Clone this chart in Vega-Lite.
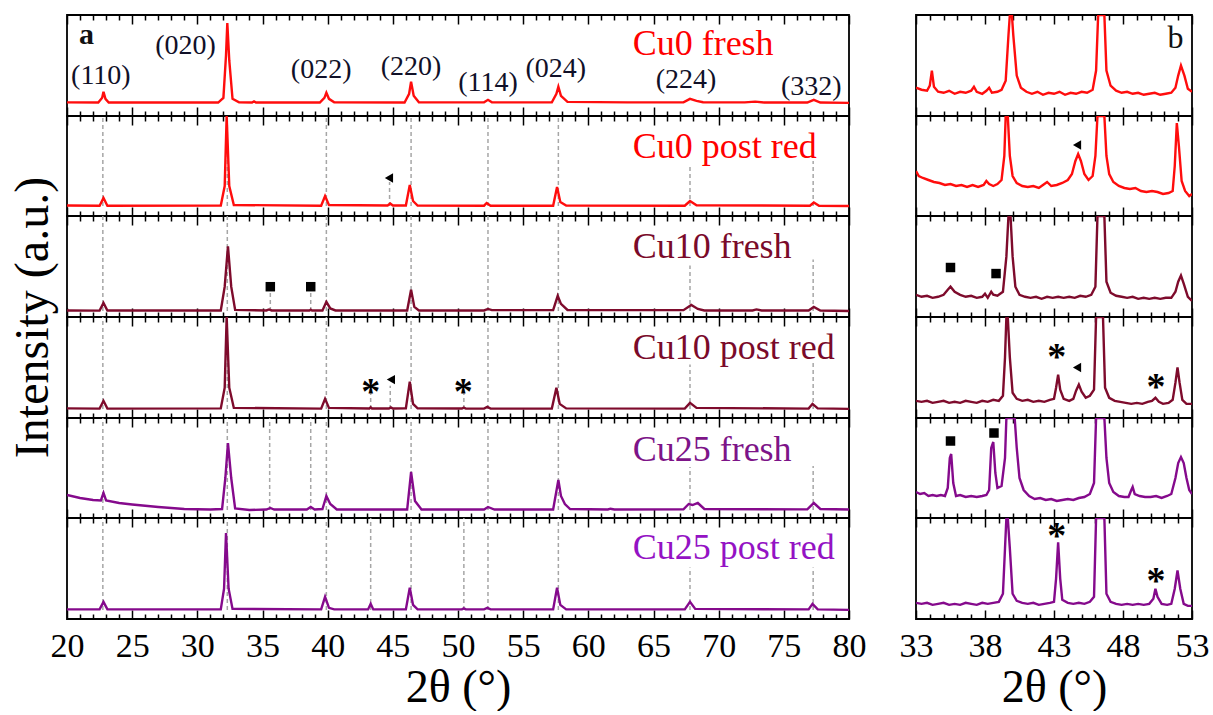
{
"$schema":"https://vega.github.io/schema/vega-lite/v6.json",
"background":"white",
"padding":{"left":8,"top":13,"right":0,"bottom":0},
"config":{"view":{"stroke":"#000","strokeWidth":1.8},"font":"Liberation Serif"},
"datasets":{
"tr":[
{"p":"L1","x":20,"y":13.5},{"p":"L1","x":22.4,"y":13.3},{"p":"L1","x":22.7,"y":18},{"p":"L1","x":22.8,"y":24},{"p":"L1","x":22.95,"y":17},{"p":"L1","x":23.2,"y":13.3},{"p":"L1","x":31.6,"y":13.3},{"p":"L1","x":32.0,"y":18},{"p":"L1","x":32.2,"y":60},{"p":"L1","x":32.3,"y":92},{"p":"L1","x":32.45,"y":55},{"p":"L1","x":32.7,"y":17},{"p":"L1","x":33.2,"y":13.5},{"p":"L1","x":34.2,"y":13.3},{"p":"L1","x":34.35,"y":14.5},{"p":"L1","x":34.5,"y":13.3},{"p":"L1","x":39.4,"y":13.3},{"p":"L1","x":39.75,"y":18},{"p":"L1","x":39.9,"y":23},{"p":"L1","x":40.1,"y":17},{"p":"L1","x":40.5,"y":13.5},{"p":"L1","x":45.9,"y":13.3},{"p":"L1","x":46.25,"y":22},{"p":"L1","x":46.4,"y":34},{"p":"L1","x":46.6,"y":20},{"p":"L1","x":47.0,"y":13.5},{"p":"L1","x":52.0,"y":13.5},{"p":"L1","x":52.3,"y":16},{"p":"L1","x":52.6,"y":13.5},{"p":"L1","x":57.2,"y":13.6},{"p":"L1","x":57.55,"y":22},{"p":"L1","x":57.7,"y":29},{"p":"L1","x":57.9,"y":20},{"p":"L1","x":58.4,"y":14},{"p":"L1","x":63,"y":13.5},{"p":"L1","x":67.3,"y":13.6},{"p":"L1","x":67.8,"y":17},{"p":"L1","x":68.3,"y":15},{"p":"L1","x":68.8,"y":13.6},{"p":"L1","x":72,"y":13.5},{"p":"L1","x":72.8,"y":14.2},{"p":"L1","x":73.5,"y":13.3},{"p":"L1","x":76.8,"y":13.3},{"p":"L1","x":77.3,"y":16},{"p":"L1","x":77.8,"y":13.3},{"p":"L1","x":80,"y":13},
{"p":"L2","x":20,"y":10.5},{"p":"L2","x":22.5,"y":10.3},{"p":"L2","x":22.8,"y":18},{"p":"L2","x":23.1,"y":10.3},{"p":"L2","x":31.8,"y":10.5},{"p":"L2","x":32.1,"y":30},{"p":"L2","x":32.25,"y":100},{"p":"L2","x":32.45,"y":30},{"p":"L2","x":32.8,"y":11},{"p":"L2","x":39.5,"y":10.3},{"p":"L2","x":39.8,"y":20},{"p":"L2","x":40.1,"y":11},{"p":"L2","x":44.6,"y":10.5},{"p":"L2","x":44.8,"y":12.5},{"p":"L2","x":45.0,"y":10.5},{"p":"L2","x":46.0,"y":10.5},{"p":"L2","x":46.3,"y":31},{"p":"L2","x":46.55,"y":15},{"p":"L2","x":46.9,"y":10.5},{"p":"L2","x":52.0,"y":10.3},{"p":"L2","x":52.2,"y":13},{"p":"L2","x":52.5,"y":10.3},{"p":"L2","x":57.3,"y":10.3},{"p":"L2","x":57.6,"y":29},{"p":"L2","x":57.85,"y":14},{"p":"L2","x":58.3,"y":10.5},{"p":"L2","x":67.4,"y":10.3},{"p":"L2","x":67.8,"y":15},{"p":"L2","x":68.3,"y":10.8},{"p":"L2","x":77.0,"y":10.3},{"p":"L2","x":77.3,"y":13.5},{"p":"L2","x":77.7,"y":10.3},{"p":"L2","x":80,"y":10},
{"p":"L3","x":20,"y":6.5},{"p":"L3","x":22.5,"y":6.3},{"p":"L3","x":22.8,"y":14},{"p":"L3","x":23.1,"y":6.5},{"p":"L3","x":31.8,"y":6.5},{"p":"L3","x":32.1,"y":30},{"p":"L3","x":32.35,"y":70},{"p":"L3","x":32.6,"y":30},{"p":"L3","x":32.9,"y":7},{"p":"L3","x":35.3,"y":6.5},{"p":"L3","x":35.5,"y":7.5},{"p":"L3","x":35.7,"y":6.5},{"p":"L3","x":38.6,"y":6.5},{"p":"L3","x":38.7,"y":7.2},{"p":"L3","x":38.8,"y":6.5},{"p":"L3","x":39.6,"y":6.5},{"p":"L3","x":39.9,"y":15},{"p":"L3","x":40.2,"y":8.5},{"p":"L3","x":40.6,"y":6.5},{"p":"L3","x":46.1,"y":6.5},{"p":"L3","x":46.4,"y":27},{"p":"L3","x":46.65,"y":10},{"p":"L3","x":47.0,"y":6.5},{"p":"L3","x":52.0,"y":6.5},{"p":"L3","x":52.3,"y":8},{"p":"L3","x":52.6,"y":6.8},{"p":"L3","x":57.3,"y":6.8},{"p":"L3","x":57.65,"y":21},{"p":"L3","x":57.9,"y":13},{"p":"L3","x":58.4,"y":7},{"p":"L3","x":67.3,"y":6.8},{"p":"L3","x":67.9,"y":12},{"p":"L3","x":68.4,"y":8},{"p":"L3","x":68.9,"y":6.5},{"p":"L3","x":72.6,"y":6.5},{"p":"L3","x":72.9,"y":7.5},{"p":"L3","x":73.3,"y":6.5},{"p":"L3","x":76.9,"y":6.5},{"p":"L3","x":77.3,"y":10},{"p":"L3","x":77.8,"y":6.5},{"p":"L3","x":80,"y":6},
{"p":"L4","x":20,"y":9.5},{"p":"L4","x":22.5,"y":9.3},{"p":"L4","x":22.8,"y":17},{"p":"L4","x":23.1,"y":9.3},{"p":"L4","x":31.8,"y":9.5},{"p":"L4","x":32.1,"y":30},{"p":"L4","x":32.25,"y":100},{"p":"L4","x":32.45,"y":30},{"p":"L4","x":32.8,"y":10},{"p":"L4","x":39.5,"y":9.3},{"p":"L4","x":39.8,"y":19},{"p":"L4","x":40.1,"y":10},{"p":"L4","x":43.2,"y":9.4},{"p":"L4","x":43.3,"y":10.5},{"p":"L4","x":43.4,"y":9.4},{"p":"L4","x":44.7,"y":9.4},{"p":"L4","x":44.85,"y":10.5},{"p":"L4","x":45,"y":9.4},{"p":"L4","x":46.0,"y":9.5},{"p":"L4","x":46.3,"y":36},{"p":"L4","x":46.55,"y":14},{"p":"L4","x":46.9,"y":9.5},{"p":"L4","x":50.3,"y":9.4},{"p":"L4","x":50.45,"y":10.3},{"p":"L4","x":50.6,"y":9.4},{"p":"L4","x":52.0,"y":9.3},{"p":"L4","x":52.25,"y":11},{"p":"L4","x":52.5,"y":9.3},{"p":"L4","x":57.2,"y":9.3},{"p":"L4","x":57.55,"y":30},{"p":"L4","x":57.8,"y":14},{"p":"L4","x":58.3,"y":9.5},{"p":"L4","x":67.4,"y":9.3},{"p":"L4","x":67.8,"y":15},{"p":"L4","x":68.3,"y":10},{"p":"L4","x":76.9,"y":9.3},{"p":"L4","x":77.2,"y":14},{"p":"L4","x":77.6,"y":9.5},{"p":"L4","x":80,"y":9},
{"p":"L5","x":20,"y":23},{"p":"L5","x":21,"y":20},{"p":"L5","x":22,"y":18},{"p":"L5","x":22.6,"y":17.5},{"p":"L5","x":22.8,"y":25},{"p":"L5","x":23.0,"y":17.5},{"p":"L5","x":24,"y":15},{"p":"L5","x":25,"y":13.5},{"p":"L5","x":27,"y":11},{"p":"L5","x":29,"y":9},{"p":"L5","x":31,"y":8.5},{"p":"L5","x":31.9,"y":9},{"p":"L5","x":32.15,"y":40},{"p":"L5","x":32.35,"y":75},{"p":"L5","x":32.6,"y":40},{"p":"L5","x":32.9,"y":9.5},{"p":"L5","x":34,"y":8},{"p":"L5","x":35.3,"y":8.5},{"p":"L5","x":35.6,"y":10},{"p":"L5","x":35.9,"y":8.5},{"p":"L5","x":38.4,"y":8.5},{"p":"L5","x":38.7,"y":11},{"p":"L5","x":39.0,"y":8.5},{"p":"L5","x":39.6,"y":9},{"p":"L5","x":39.9,"y":22},{"p":"L5","x":40.2,"y":14},{"p":"L5","x":40.7,"y":8.5},{"p":"L5","x":46.1,"y":8.5},{"p":"L5","x":46.4,"y":46},{"p":"L5","x":46.7,"y":17},{"p":"L5","x":47.2,"y":8.5},{"p":"L5","x":52.0,"y":8.5},{"p":"L5","x":52.3,"y":11},{"p":"L5","x":52.8,"y":8.5},{"p":"L5","x":57.3,"y":8.5},{"p":"L5","x":57.7,"y":38},{"p":"L5","x":57.9,"y":22},{"p":"L5","x":58.2,"y":14},{"p":"L5","x":58.6,"y":9},{"p":"L5","x":61.5,"y":8.5},{"p":"L5","x":61.7,"y":9.3},{"p":"L5","x":62,"y":8.5},{"p":"L5","x":67.3,"y":8.7},{"p":"L5","x":67.7,"y":14},{"p":"L5","x":68.0,"y":13},{"p":"L5","x":68.4,"y":15},{"p":"L5","x":68.9,"y":9},{"p":"L5","x":76.8,"y":8.6},{"p":"L5","x":77.3,"y":15},{"p":"L5","x":77.8,"y":9},{"p":"L5","x":80,"y":8.5},
{"p":"L6","x":20,"y":9.5},{"p":"L6","x":22.5,"y":9.5},{"p":"L6","x":22.8,"y":17},{"p":"L6","x":23.1,"y":9.5},{"p":"L6","x":31.8,"y":9.5},{"p":"L6","x":32.05,"y":30},{"p":"L6","x":32.2,"y":85},{"p":"L6","x":32.4,"y":30},{"p":"L6","x":32.7,"y":10},{"p":"L6","x":39.5,"y":9.5},{"p":"L6","x":39.8,"y":22},{"p":"L6","x":40.1,"y":11},{"p":"L6","x":40.5,"y":9.5},{"p":"L6","x":43.1,"y":9.5},{"p":"L6","x":43.3,"y":15},{"p":"L6","x":43.5,"y":9.5},{"p":"L6","x":46.0,"y":9.5},{"p":"L6","x":46.3,"y":31},{"p":"L6","x":46.55,"y":14},{"p":"L6","x":46.9,"y":9.5},{"p":"L6","x":50.3,"y":9.5},{"p":"L6","x":50.45,"y":10.5},{"p":"L6","x":50.6,"y":9.5},{"p":"L6","x":52.0,"y":9.5},{"p":"L6","x":52.25,"y":11},{"p":"L6","x":52.5,"y":9.5},{"p":"L6","x":57.3,"y":9.5},{"p":"L6","x":57.6,"y":31},{"p":"L6","x":57.85,"y":14},{"p":"L6","x":58.3,"y":9.5},{"p":"L6","x":67.4,"y":9.5},{"p":"L6","x":67.8,"y":17},{"p":"L6","x":68.2,"y":10},{"p":"L6","x":76.9,"y":9.5},{"p":"L6","x":77.2,"y":15},{"p":"L6","x":77.6,"y":9.5},{"p":"L6","x":80,"y":9},
{"p":"R1","x":33,"y":28},{"p":"R1","x":33.4,"y":26},{"p":"R1","x":33.8,"y":25},{"p":"R1","x":34.0,"y":30},{"p":"R1","x":34.15,"y":45},{"p":"R1","x":34.3,"y":29},{"p":"R1","x":34.6,"y":24},{"p":"R1","x":35.0,"y":23},{"p":"R1","x":35.4,"y":25},{"p":"R1","x":35.8,"y":22},{"p":"R1","x":36.2,"y":24},{"p":"R1","x":36.6,"y":23},{"p":"R1","x":37.0,"y":25},{"p":"R1","x":37.2,"y":29},{"p":"R1","x":37.4,"y":24},{"p":"R1","x":37.8,"y":22},{"p":"R1","x":38.1,"y":25},{"p":"R1","x":38.3,"y":28},{"p":"R1","x":38.5,"y":23},{"p":"R1","x":38.9,"y":24},{"p":"R1","x":39.2,"y":26},{"p":"R1","x":39.5,"y":35},{"p":"R1","x":39.7,"y":80},{"p":"R1","x":39.8,"y":100},{"p":"R1","x":39.95,"y":100},{"p":"R1","x":40.05,"y":80},{"p":"R1","x":40.3,"y":40},{"p":"R1","x":40.6,"y":28},{"p":"R1","x":41.0,"y":24},{"p":"R1","x":41.4,"y":22},{"p":"R1","x":41.8,"y":24},{"p":"R1","x":42.2,"y":21},{"p":"R1","x":42.6,"y":23},{"p":"R1","x":43.0,"y":22},{"p":"R1","x":43.4,"y":24},{"p":"R1","x":43.8,"y":21},{"p":"R1","x":44.2,"y":23},{"p":"R1","x":44.6,"y":22},{"p":"R1","x":45.0,"y":24},{"p":"R1","x":45.4,"y":23},{"p":"R1","x":45.8,"y":26},{"p":"R1","x":46.05,"y":45},{"p":"R1","x":46.2,"y":100},{"p":"R1","x":46.65,"y":100},{"p":"R1","x":46.8,"y":45},{"p":"R1","x":47.1,"y":30},{"p":"R1","x":47.5,"y":25},{"p":"R1","x":47.9,"y":23},{"p":"R1","x":48.3,"y":24},{"p":"R1","x":48.7,"y":22},{"p":"R1","x":49.1,"y":23},{"p":"R1","x":49.5,"y":21},{"p":"R1","x":49.9,"y":22},{"p":"R1","x":50.3,"y":23},{"p":"R1","x":50.7,"y":21},{"p":"R1","x":51.1,"y":22},{"p":"R1","x":51.5,"y":23},{"p":"R1","x":51.8,"y":28},{"p":"R1","x":52.0,"y":40},{"p":"R1","x":52.2,"y":50},{"p":"R1","x":52.45,"y":40},{"p":"R1","x":52.7,"y":27},{"p":"R1","x":53,"y":24},
{"p":"R2","x":33,"y":45},{"p":"R2","x":33.2,"y":40},{"p":"R2","x":33.5,"y":38},{"p":"R2","x":33.9,"y":36},{"p":"R2","x":34.3,"y":34},{"p":"R2","x":34.7,"y":33},{"p":"R2","x":35.1,"y":31},{"p":"R2","x":35.5,"y":32},{"p":"R2","x":35.9,"y":30},{"p":"R2","x":36.3,"y":31},{"p":"R2","x":36.7,"y":29},{"p":"R2","x":37.1,"y":31},{"p":"R2","x":37.5,"y":29},{"p":"R2","x":37.9,"y":31},{"p":"R2","x":38.1,"y":35},{"p":"R2","x":38.3,"y":32},{"p":"R2","x":38.6,"y":30},{"p":"R2","x":38.9,"y":32},{"p":"R2","x":39.2,"y":36},{"p":"R2","x":39.4,"y":60},{"p":"R2","x":39.5,"y":100},{"p":"R2","x":39.65,"y":100},{"p":"R2","x":39.8,"y":60},{"p":"R2","x":40.0,"y":40},{"p":"R2","x":40.3,"y":33},{"p":"R2","x":40.7,"y":30},{"p":"R2","x":41.1,"y":29},{"p":"R2","x":41.5,"y":30},{"p":"R2","x":41.9,"y":28},{"p":"R2","x":42.2,"y":31},{"p":"R2","x":42.5,"y":34},{"p":"R2","x":42.8,"y":30},{"p":"R2","x":43.2,"y":31},{"p":"R2","x":43.6,"y":33},{"p":"R2","x":44.0,"y":36},{"p":"R2","x":44.3,"y":42},{"p":"R2","x":44.55,"y":55},{"p":"R2","x":44.75,"y":62},{"p":"R2","x":44.95,"y":55},{"p":"R2","x":45.2,"y":42},{"p":"R2","x":45.5,"y":36},{"p":"R2","x":45.8,"y":40},{"p":"R2","x":46.0,"y":60},{"p":"R2","x":46.15,"y":100},{"p":"R2","x":46.65,"y":100},{"p":"R2","x":46.8,"y":60},{"p":"R2","x":47.0,"y":42},{"p":"R2","x":47.3,"y":34},{"p":"R2","x":47.7,"y":30},{"p":"R2","x":48.1,"y":28},{"p":"R2","x":48.5,"y":27},{"p":"R2","x":48.9,"y":28},{"p":"R2","x":49.3,"y":25},{"p":"R2","x":49.7,"y":24},{"p":"R2","x":50.1,"y":25},{"p":"R2","x":50.5,"y":24},{"p":"R2","x":50.9,"y":22},{"p":"R2","x":51.3,"y":23},{"p":"R2","x":51.6,"y":25},{"p":"R2","x":51.75,"y":50},{"p":"R2","x":51.9,"y":93},{"p":"R2","x":52.05,"y":70},{"p":"R2","x":52.25,"y":35},{"p":"R2","x":52.5,"y":25},{"p":"R2","x":52.8,"y":20},{"p":"R2","x":53,"y":22},
{"p":"R3","x":33,"y":22},{"p":"R3","x":33.4,"y":20},{"p":"R3","x":33.8,"y":21},{"p":"R3","x":34.2,"y":19},{"p":"R3","x":34.6,"y":20},{"p":"R3","x":35.0,"y":22},{"p":"R3","x":35.3,"y":27},{"p":"R3","x":35.5,"y":30},{"p":"R3","x":35.8,"y":25},{"p":"R3","x":36.2,"y":22},{"p":"R3","x":36.6,"y":20},{"p":"R3","x":37.0,"y":21},{"p":"R3","x":37.4,"y":19},{"p":"R3","x":37.8,"y":20},{"p":"R3","x":38.0,"y":23},{"p":"R3","x":38.2,"y":19},{"p":"R3","x":38.45,"y":25},{"p":"R3","x":38.6,"y":22},{"p":"R3","x":38.9,"y":21},{"p":"R3","x":39.3,"y":25},{"p":"R3","x":39.55,"y":60},{"p":"R3","x":39.7,"y":100},{"p":"R3","x":39.85,"y":100},{"p":"R3","x":40.0,"y":60},{"p":"R3","x":40.2,"y":30},{"p":"R3","x":40.5,"y":22},{"p":"R3","x":40.9,"y":20},{"p":"R3","x":41.3,"y":19},{"p":"R3","x":41.7,"y":20},{"p":"R3","x":42.1,"y":18},{"p":"R3","x":42.5,"y":20},{"p":"R3","x":42.9,"y":19},{"p":"R3","x":43.3,"y":20},{"p":"R3","x":43.7,"y":19},{"p":"R3","x":44.1,"y":20},{"p":"R3","x":44.5,"y":19},{"p":"R3","x":44.9,"y":21},{"p":"R3","x":45.3,"y":20},{"p":"R3","x":45.7,"y":22},{"p":"R3","x":46.0,"y":30},{"p":"R3","x":46.15,"y":100},{"p":"R3","x":46.65,"y":100},{"p":"R3","x":46.8,"y":35},{"p":"R3","x":47.1,"y":24},{"p":"R3","x":47.5,"y":21},{"p":"R3","x":47.9,"y":20},{"p":"R3","x":48.3,"y":19},{"p":"R3","x":48.7,"y":20},{"p":"R3","x":49.1,"y":18},{"p":"R3","x":49.5,"y":19},{"p":"R3","x":49.9,"y":18},{"p":"R3","x":50.3,"y":19},{"p":"R3","x":50.7,"y":18},{"p":"R3","x":51.1,"y":19},{"p":"R3","x":51.5,"y":19},{"p":"R3","x":51.8,"y":25},{"p":"R3","x":52.0,"y":35},{"p":"R3","x":52.2,"y":41},{"p":"R3","x":52.4,"y":33},{"p":"R3","x":52.7,"y":20},{"p":"R3","x":53,"y":16},
{"p":"R4","x":33,"y":17},{"p":"R4","x":33.4,"y":16},{"p":"R4","x":33.8,"y":17},{"p":"R4","x":34.2,"y":15},{"p":"R4","x":34.6,"y":16},{"p":"R4","x":35.0,"y":17},{"p":"R4","x":35.4,"y":15},{"p":"R4","x":35.8,"y":16},{"p":"R4","x":36.2,"y":15},{"p":"R4","x":36.6,"y":17},{"p":"R4","x":37.0,"y":16},{"p":"R4","x":37.4,"y":15},{"p":"R4","x":37.8,"y":17},{"p":"R4","x":38.2,"y":16},{"p":"R4","x":38.6,"y":18},{"p":"R4","x":39.0,"y":17},{"p":"R4","x":39.3,"y":22},{"p":"R4","x":39.45,"y":60},{"p":"R4","x":39.55,"y":100},{"p":"R4","x":39.65,"y":100},{"p":"R4","x":39.8,"y":60},{"p":"R4","x":40.0,"y":25},{"p":"R4","x":40.3,"y":19},{"p":"R4","x":40.7,"y":17},{"p":"R4","x":41.1,"y":18},{"p":"R4","x":41.5,"y":16},{"p":"R4","x":41.9,"y":17},{"p":"R4","x":42.3,"y":16},{"p":"R4","x":42.7,"y":18},{"p":"R4","x":43.0,"y":19},{"p":"R4","x":43.15,"y":30},{"p":"R4","x":43.3,"y":43},{"p":"R4","x":43.45,"y":28},{"p":"R4","x":43.7,"y":19},{"p":"R4","x":44.1,"y":17},{"p":"R4","x":44.4,"y":19},{"p":"R4","x":44.6,"y":27},{"p":"R4","x":44.8,"y":33},{"p":"R4","x":45.0,"y":26},{"p":"R4","x":45.3,"y":20},{"p":"R4","x":45.6,"y":22},{"p":"R4","x":45.9,"y":28},{"p":"R4","x":46.05,"y":100},{"p":"R4","x":46.55,"y":100},{"p":"R4","x":46.7,"y":30},{"p":"R4","x":47.0,"y":20},{"p":"R4","x":47.4,"y":17},{"p":"R4","x":47.8,"y":16},{"p":"R4","x":48.2,"y":15},{"p":"R4","x":48.6,"y":14},{"p":"R4","x":49.0,"y":15},{"p":"R4","x":49.4,"y":14},{"p":"R4","x":49.8,"y":16},{"p":"R4","x":50.1,"y":17},{"p":"R4","x":50.35,"y":20},{"p":"R4","x":50.6,"y":16},{"p":"R4","x":50.9,"y":14},{"p":"R4","x":51.3,"y":15},{"p":"R4","x":51.6,"y":18},{"p":"R4","x":51.8,"y":35},{"p":"R4","x":51.95,"y":50},{"p":"R4","x":52.1,"y":35},{"p":"R4","x":52.3,"y":18},{"p":"R4","x":52.6,"y":14},{"p":"R4","x":53,"y":14},
{"p":"R5","x":33,"y":26},{"p":"R5","x":33.3,"y":24},{"p":"R5","x":33.6,"y":25},{"p":"R5","x":33.9,"y":22},{"p":"R5","x":34.2,"y":23},{"p":"R5","x":34.5,"y":22},{"p":"R5","x":34.8,"y":23},{"p":"R5","x":35.1,"y":22},{"p":"R5","x":35.3,"y":30},{"p":"R5","x":35.45,"y":60},{"p":"R5","x":35.55,"y":64},{"p":"R5","x":35.7,"y":35},{"p":"R5","x":35.9,"y":22},{"p":"R5","x":36.2,"y":23},{"p":"R5","x":36.6,"y":21},{"p":"R5","x":37.0,"y":22},{"p":"R5","x":37.4,"y":21},{"p":"R5","x":37.8,"y":22},{"p":"R5","x":38.1,"y":23},{"p":"R5","x":38.3,"y":28},{"p":"R5","x":38.45,"y":70},{"p":"R5","x":38.6,"y":76},{"p":"R5","x":38.75,"y":45},{"p":"R5","x":38.9,"y":30},{"p":"R5","x":39.2,"y":32},{"p":"R5","x":39.45,"y":60},{"p":"R5","x":39.55,"y":100},{"p":"R5","x":40.15,"y":100},{"p":"R5","x":40.3,"y":70},{"p":"R5","x":40.5,"y":40},{"p":"R5","x":40.8,"y":28},{"p":"R5","x":41.2,"y":22},{"p":"R5","x":41.6,"y":19},{"p":"R5","x":42.0,"y":20},{"p":"R5","x":42.4,"y":18},{"p":"R5","x":42.8,"y":19},{"p":"R5","x":43.2,"y":17},{"p":"R5","x":43.6,"y":18},{"p":"R5","x":44.0,"y":19},{"p":"R5","x":44.4,"y":18},{"p":"R5","x":44.8,"y":20},{"p":"R5","x":45.2,"y":21},{"p":"R5","x":45.6,"y":24},{"p":"R5","x":45.9,"y":35},{"p":"R5","x":46.05,"y":100},{"p":"R5","x":46.65,"y":100},{"p":"R5","x":46.8,"y":60},{"p":"R5","x":47.0,"y":35},{"p":"R5","x":47.3,"y":26},{"p":"R5","x":47.7,"y":22},{"p":"R5","x":48.1,"y":21},{"p":"R5","x":48.4,"y":21},{"p":"R5","x":48.6,"y":28},{"p":"R5","x":48.7,"y":31},{"p":"R5","x":48.85,"y":24},{"p":"R5","x":49.2,"y":22},{"p":"R5","x":49.6,"y":21},{"p":"R5","x":50.0,"y":21},{"p":"R5","x":50.4,"y":22},{"p":"R5","x":50.8,"y":20},{"p":"R5","x":51.2,"y":22},{"p":"R5","x":51.5,"y":24},{"p":"R5","x":51.8,"y":40},{"p":"R5","x":52.0,"y":55},{"p":"R5","x":52.2,"y":61},{"p":"R5","x":52.4,"y":55},{"p":"R5","x":52.6,"y":40},{"p":"R5","x":52.8,"y":28},{"p":"R5","x":53,"y":24},
{"p":"R6","x":33,"y":16},{"p":"R6","x":33.4,"y":15},{"p":"R6","x":33.8,"y":16},{"p":"R6","x":34.2,"y":14},{"p":"R6","x":34.6,"y":15},{"p":"R6","x":35.0,"y":16},{"p":"R6","x":35.4,"y":14},{"p":"R6","x":35.8,"y":15},{"p":"R6","x":36.2,"y":14},{"p":"R6","x":36.6,"y":16},{"p":"R6","x":37.0,"y":15},{"p":"R6","x":37.4,"y":14},{"p":"R6","x":37.8,"y":16},{"p":"R6","x":38.2,"y":15},{"p":"R6","x":38.6,"y":16},{"p":"R6","x":39.0,"y":17},{"p":"R6","x":39.3,"y":25},{"p":"R6","x":39.45,"y":70},{"p":"R6","x":39.55,"y":100},{"p":"R6","x":39.65,"y":100},{"p":"R6","x":39.8,"y":70},{"p":"R6","x":40.0,"y":25},{"p":"R6","x":40.3,"y":18},{"p":"R6","x":40.7,"y":16},{"p":"R6","x":41.1,"y":15},{"p":"R6","x":41.5,"y":16},{"p":"R6","x":41.9,"y":14},{"p":"R6","x":42.3,"y":15},{"p":"R6","x":42.7,"y":16},{"p":"R6","x":43.0,"y":17},{"p":"R6","x":43.15,"y":40},{"p":"R6","x":43.3,"y":76},{"p":"R6","x":43.45,"y":40},{"p":"R6","x":43.6,"y":19},{"p":"R6","x":44.0,"y":16},{"p":"R6","x":44.4,"y":15},{"p":"R6","x":44.8,"y":16},{"p":"R6","x":45.2,"y":15},{"p":"R6","x":45.6,"y":17},{"p":"R6","x":45.9,"y":22},{"p":"R6","x":46.05,"y":100},{"p":"R6","x":46.65,"y":100},{"p":"R6","x":46.8,"y":25},{"p":"R6","x":47.1,"y":17},{"p":"R6","x":47.5,"y":15},{"p":"R6","x":47.9,"y":14},{"p":"R6","x":48.3,"y":15},{"p":"R6","x":48.7,"y":14},{"p":"R6","x":49.1,"y":15},{"p":"R6","x":49.5,"y":14},{"p":"R6","x":49.9,"y":15},{"p":"R6","x":50.2,"y":20},{"p":"R6","x":50.35,"y":30},{"p":"R6","x":50.5,"y":22},{"p":"R6","x":50.8,"y":15},{"p":"R6","x":51.2,"y":14},{"p":"R6","x":51.5,"y":15},{"p":"R6","x":51.75,"y":30},{"p":"R6","x":51.95,"y":48},{"p":"R6","x":52.15,"y":30},{"p":"R6","x":52.4,"y":15},{"p":"R6","x":52.7,"y":13},{"p":"R6","x":53,"y":13}
],
"ru":[
{"p":"L2","x":22.75,"y":10,"y2":100},{"p":"L2","x":32.3,"y":10,"y2":100},{"p":"L2","x":39.9,"y":10,"y2":100},{"p":"L2","x":44.75,"y":10,"y2":34},{"p":"L2","x":46.4,"y":10,"y2":100},{"p":"L2","x":52.3,"y":10,"y2":100},{"p":"L2","x":57.7,"y":10,"y2":100},{"p":"L2","x":67.8,"y":10,"y2":52},{"p":"L2","x":77.25,"y":10,"y2":55},
{"p":"L3","x":22.75,"y":6,"y2":100},{"p":"L3","x":32.3,"y":6,"y2":100},{"p":"L3","x":35.6,"y":6,"y2":25},{"p":"L3","x":38.7,"y":6,"y2":25},{"p":"L3","x":39.9,"y":6,"y2":100},{"p":"L3","x":46.4,"y":6,"y2":100},{"p":"L3","x":52.3,"y":6,"y2":100},{"p":"L3","x":57.7,"y":6,"y2":100},{"p":"L3","x":67.8,"y":6,"y2":51},{"p":"L3","x":77.25,"y":6,"y2":57},
{"p":"L4","x":22.75,"y":9,"y2":100},{"p":"L4","x":32.3,"y":9,"y2":100},{"p":"L4","x":39.9,"y":9,"y2":100},{"p":"L4","x":43.3,"y":9,"y2":24},{"p":"L4","x":44.8,"y":9,"y2":32},{"p":"L4","x":46.4,"y":9,"y2":100},{"p":"L4","x":50.45,"y":9,"y2":24},{"p":"L4","x":52.3,"y":9,"y2":100},{"p":"L4","x":57.7,"y":9,"y2":100},{"p":"L4","x":67.8,"y":9,"y2":53},{"p":"L4","x":77.25,"y":9,"y2":56},
{"p":"L5","x":22.75,"y":8,"y2":100},{"p":"L5","x":32.3,"y":8,"y2":100},{"p":"L5","x":35.55,"y":8,"y2":100},{"p":"L5","x":38.7,"y":8,"y2":100},{"p":"L5","x":39.9,"y":8,"y2":100},{"p":"L5","x":46.4,"y":8,"y2":100},{"p":"L5","x":52.3,"y":8,"y2":100},{"p":"L5","x":57.7,"y":8,"y2":100},{"p":"L5","x":67.8,"y":8,"y2":51},{"p":"L5","x":77.25,"y":8,"y2":52},
{"p":"L6","x":22.75,"y":9,"y2":100},{"p":"L6","x":32.3,"y":9,"y2":100},{"p":"L6","x":39.9,"y":9,"y2":100},{"p":"L6","x":43.3,"y":9,"y2":100},{"p":"L6","x":46.4,"y":9,"y2":100},{"p":"L6","x":50.45,"y":9,"y2":100},{"p":"L6","x":52.3,"y":9,"y2":100},{"p":"L6","x":57.7,"y":9,"y2":100},{"p":"L6","x":67.8,"y":9,"y2":51},{"p":"L6","x":77.25,"y":9,"y2":51}
],
"tx":[
{"p":"L1","k":"lab","x":63.4,"y":60,"t":"Cu0 fresh"},{"p":"L2","k":"lab","x":63.4,"y":58,"t":"Cu0 post red"},{"p":"L3","k":"lab","x":63.4,"y":58,"t":"Cu10 fresh"},{"p":"L4","k":"lab","x":63.4,"y":58,"t":"Cu10 post red"},{"p":"L5","k":"lab","x":63.4,"y":57,"t":"Cu25 fresh"},{"p":"L6","k":"lab","x":63.4,"y":59,"t":"Cu25 post red"},
{"p":"L1","k":"hkl","x":22.6,"y":40,"t":"(110)"},{"p":"L1","k":"hkl","x":29.1,"y":69,"t":"(020)"},{"p":"L1","k":"hkl","x":39.5,"y":45.5,"t":"(022)"},{"p":"L1","k":"hkl","x":46.4,"y":49,"t":"(220)"},{"p":"L1","k":"hkl","x":52.3,"y":33,"t":"(114)"},{"p":"L1","k":"hkl","x":57.5,"y":46.5,"t":"(024)"},{"p":"L1","k":"hkl","x":67.5,"y":35.5,"t":"(224)"},{"p":"L1","k":"hkl","x":77.1,"y":29,"t":"(332)"},
{"p":"L1","k":"ab","x":21.5,"y":80,"t":"a"},{"p":"R1","k":"ab","x":51.8,"y":77,"t":"b"}
],
"mk":[
{"p":"L2","k":"tri","x":44.7,"y":38},
{"p":"L3","k":"sq","x":35.6,"y":30},{"p":"L3","k":"sq","x":38.7,"y":30},
{"p":"L4","k":"ast","x":43.3,"y":31},{"p":"L4","k":"tri","x":44.85,"y":38},{"p":"L4","k":"ast","x":50.4,"y":31},
{"p":"R2","k":"tri","x":44.67,"y":71},
{"p":"R3","k":"sq","x":35.5,"y":49},{"p":"R3","k":"sq","x":38.8,"y":43},
{"p":"R4","k":"ast","x":43.2,"y":65},{"p":"R4","k":"tri","x":44.67,"y":50},{"p":"R4","k":"ast","x":50.4,"y":36},
{"p":"R5","k":"sq","x":35.5,"y":77},{"p":"R5","k":"sq","x":38.65,"y":85},
{"p":"R6","k":"ast","x":43.2,"y":87},{"p":"R6","k":"ast","x":50.4,"y":43}
]
},
"spacing":31,
"hconcat":[
{"bounds":"flush","spacing":0,
 "vconcat":[
  {"width":782,"height":101,"resolve":{"axis":{"x":"independent"}},"layer":[
   {"data":{"name":"tr"},"transform":[{"filter":"datum.p==='L1'"}],"mark":{"type":"line","color":"#ff0d0d","strokeWidth":2.4,"clip":true},"encoding":{"x":{"field":"x","type":"quantitative","scale":{"domain":[20,80]},"axis":{"orient":"bottom","values":[20,21,22,23,24,25,26,27,28,29,30,31,32,33,34,35,36,37,38,39,40,41,42,43,44,45,46,47,48,49,50,51,52,53,54,55,56,57,58,59,60,61,62,63,64,65,66,67,68,69,70,71,72,73,74,75,76,77,78,79,80],"labels":false,"domain":false,"grid":false,"title":null,"tickColor":"#000","tickWidth":1.5,"tickSize":{"condition":{"test":"datum.value % 5 === 0","value":-9},"value":-5}}},"y":{"field":"y","type":"quantitative","scale":{"domain":[0,100]},"axis":null}}},
   {"data":{"name":"tr"},"transform":[{"filter":"datum.p==='L1'"}],"mark":{"type":"line","strokeOpacity":0},"encoding":{"x":{"field":"x","type":"quantitative","scale":{"domain":[20,80]},"axis":{"orient":"top","values":[20,21,22,23,24,25,26,27,28,29,30,31,32,33,34,35,36,37,38,39,40,41,42,43,44,45,46,47,48,49,50,51,52,53,54,55,56,57,58,59,60,61,62,63,64,65,66,67,68,69,70,71,72,73,74,75,76,77,78,79,80],"labels":false,"domain":false,"grid":false,"title":null,"tickColor":"#000","tickWidth":1.5,"tickSize":{"condition":{"test":"datum.value % 5 === 0","value":-9},"value":-5}}},"y":{"field":"y","type":"quantitative","scale":{"domain":[0,100]},"axis":null}}},
   {"data":{"name":"tx"},"transform":[{"filter":"datum.p==='L1' && datum.k==='lab'"}],"mark":{"type":"text","align":"left","baseline":"alphabetic","font":"Liberation Serif","fontSize":36,"color":"#ff0000"},"encoding":{"x":{"field":"x","type":"quantitative","scale":{"domain":[20,80]},"axis":null},"y":{"field":"y","type":"quantitative","scale":{"domain":[0,100]},"axis":null},"text":{"field":"t"}}},
   {"data":{"name":"tx"},"transform":[{"filter":"datum.p==='L1' && datum.k==='hkl'"}],"mark":{"type":"text","align":"center","baseline":"middle","font":"Liberation Serif","fontSize":28,"color":"#101028"},"encoding":{"x":{"field":"x","type":"quantitative","scale":{"domain":[20,80]},"axis":null},"y":{"field":"y","type":"quantitative","scale":{"domain":[0,100]},"axis":null},"text":{"field":"t"}}},
   {"data":{"name":"tx"},"transform":[{"filter":"datum.p==='L1' && datum.k==='ab'"}],"mark":{"type":"text","align":"center","baseline":"middle","font":"Liberation Serif","fontSize":30,"fontWeight":"bold","color":"#111"},"encoding":{"x":{"field":"x","type":"quantitative","scale":{"domain":[20,80]},"axis":null},"y":{"field":"y","type":"quantitative","scale":{"domain":[0,100]},"axis":null},"text":{"field":"t"}}}
  ]},
  {"width":782,"height":100,"resolve":{"axis":{"x":"independent"}},"layer":[
   {"data":{"name":"ru"},"transform":[{"filter":"datum.p==='L2'"}],"mark":{"type":"rule","color":"#a6a6a6","strokeDash":[4,3],"strokeWidth":1.5},"encoding":{"x":{"field":"x","type":"quantitative","scale":{"domain":[20,80]},"axis":null},"y":{"field":"y","type":"quantitative","scale":{"domain":[0,100]},"axis":null},"y2":{"field":"y2"}}},
   {"data":{"name":"tr"},"transform":[{"filter":"datum.p==='L2'"}],"mark":{"type":"line","color":"#ff0d0d","strokeWidth":2.4,"clip":true},"encoding":{"x":{"field":"x","type":"quantitative","scale":{"domain":[20,80]},"axis":{"orient":"bottom","values":[20,21,22,23,24,25,26,27,28,29,30,31,32,33,34,35,36,37,38,39,40,41,42,43,44,45,46,47,48,49,50,51,52,53,54,55,56,57,58,59,60,61,62,63,64,65,66,67,68,69,70,71,72,73,74,75,76,77,78,79,80],"labels":false,"domain":false,"grid":false,"title":null,"tickColor":"#000","tickWidth":1.5,"tickSize":{"condition":{"test":"datum.value % 5 === 0","value":-9},"value":-5}}},"y":{"field":"y","type":"quantitative","scale":{"domain":[0,100]},"axis":null}}},
   {"data":{"name":"tr"},"transform":[{"filter":"datum.p==='L2'"}],"mark":{"type":"line","strokeOpacity":0},"encoding":{"x":{"field":"x","type":"quantitative","scale":{"domain":[20,80]},"axis":{"orient":"top","values":[20,21,22,23,24,25,26,27,28,29,30,31,32,33,34,35,36,37,38,39,40,41,42,43,44,45,46,47,48,49,50,51,52,53,54,55,56,57,58,59,60,61,62,63,64,65,66,67,68,69,70,71,72,73,74,75,76,77,78,79,80],"labels":false,"domain":false,"grid":false,"title":null,"tickColor":"#000","tickWidth":1.5,"tickSize":{"condition":{"test":"datum.value % 5 === 0","value":-9},"value":-5}}},"y":{"field":"y","type":"quantitative","scale":{"domain":[0,100]},"axis":null}}},
   {"data":{"name":"tx"},"transform":[{"filter":"datum.p==='L2' && datum.k==='lab'"}],"mark":{"type":"text","align":"left","baseline":"alphabetic","font":"Liberation Serif","fontSize":36,"color":"#ff0000"},"encoding":{"x":{"field":"x","type":"quantitative","scale":{"domain":[20,80]},"axis":null},"y":{"field":"y","type":"quantitative","scale":{"domain":[0,100]},"axis":null},"text":{"field":"t"}}},
   {"data":{"name":"mk"},"transform":[{"filter":"datum.p==='L2' && datum.k!=='ast'"}],"mark":{"type":"point","filled":true,"color":"#000","opacity":1,"size":90},"encoding":{"x":{"field":"x","type":"quantitative","scale":{"domain":[20,80]},"axis":null},"y":{"field":"y","type":"quantitative","scale":{"domain":[0,100]},"axis":null},"shape":{"field":"k","type":"nominal","scale":{"domain":["sq","tri"],"range":["square","triangle-left"]},"legend":null}}}
  ]},
  {"width":782,"height":101,"resolve":{"axis":{"x":"independent"}},"layer":[
   {"data":{"name":"ru"},"transform":[{"filter":"datum.p==='L3'"}],"mark":{"type":"rule","color":"#a6a6a6","strokeDash":[4,3],"strokeWidth":1.5},"encoding":{"x":{"field":"x","type":"quantitative","scale":{"domain":[20,80]},"axis":null},"y":{"field":"y","type":"quantitative","scale":{"domain":[0,100]},"axis":{"title":"Intensity (a.u.)","titleFont":"Liberation Serif","titleFontSize":48,"titleFontWeight":"normal","titleColor":"#000","titleY":101,"titlePadding":10,"labels":false,"ticks":false,"domain":false,"grid":false}},"y2":{"field":"y2"}}},
   {"data":{"name":"tr"},"transform":[{"filter":"datum.p==='L3'"}],"mark":{"type":"line","color":"#7e0b2c","strokeWidth":2.4,"clip":true},"encoding":{"x":{"field":"x","type":"quantitative","scale":{"domain":[20,80]},"axis":{"orient":"bottom","values":[20,21,22,23,24,25,26,27,28,29,30,31,32,33,34,35,36,37,38,39,40,41,42,43,44,45,46,47,48,49,50,51,52,53,54,55,56,57,58,59,60,61,62,63,64,65,66,67,68,69,70,71,72,73,74,75,76,77,78,79,80],"labels":false,"domain":false,"grid":false,"title":null,"tickColor":"#000","tickWidth":1.5,"tickSize":{"condition":{"test":"datum.value % 5 === 0","value":-9},"value":-5}}},"y":{"field":"y","type":"quantitative","scale":{"domain":[0,100]}}}},
   {"data":{"name":"tr"},"transform":[{"filter":"datum.p==='L3'"}],"mark":{"type":"line","strokeOpacity":0},"encoding":{"x":{"field":"x","type":"quantitative","scale":{"domain":[20,80]},"axis":{"orient":"top","values":[20,21,22,23,24,25,26,27,28,29,30,31,32,33,34,35,36,37,38,39,40,41,42,43,44,45,46,47,48,49,50,51,52,53,54,55,56,57,58,59,60,61,62,63,64,65,66,67,68,69,70,71,72,73,74,75,76,77,78,79,80],"labels":false,"domain":false,"grid":false,"title":null,"tickColor":"#000","tickWidth":1.5,"tickSize":{"condition":{"test":"datum.value % 5 === 0","value":-9},"value":-5}}},"y":{"field":"y","type":"quantitative","scale":{"domain":[0,100]}}}},
   {"data":{"name":"tx"},"transform":[{"filter":"datum.p==='L3' && datum.k==='lab'"}],"mark":{"type":"text","align":"left","baseline":"alphabetic","font":"Liberation Serif","fontSize":36,"color":"#7a0a2a"},"encoding":{"x":{"field":"x","type":"quantitative","scale":{"domain":[20,80]},"axis":null},"y":{"field":"y","type":"quantitative","scale":{"domain":[0,100]}},"text":{"field":"t"}}},
   {"data":{"name":"mk"},"transform":[{"filter":"datum.p==='L3' && datum.k!=='ast'"}],"mark":{"type":"point","filled":true,"color":"#000","opacity":1,"size":90},"encoding":{"x":{"field":"x","type":"quantitative","scale":{"domain":[20,80]},"axis":null},"y":{"field":"y","type":"quantitative","scale":{"domain":[0,100]}},"shape":{"field":"k","type":"nominal","scale":{"domain":["sq","tri"],"range":["square","triangle-left"]},"legend":null}}}
  ]},
  {"width":782,"height":101,"resolve":{"axis":{"x":"independent"}},"layer":[
   {"data":{"name":"ru"},"transform":[{"filter":"datum.p==='L4'"}],"mark":{"type":"rule","color":"#a6a6a6","strokeDash":[4,3],"strokeWidth":1.5},"encoding":{"x":{"field":"x","type":"quantitative","scale":{"domain":[20,80]},"axis":null},"y":{"field":"y","type":"quantitative","scale":{"domain":[0,100]},"axis":null},"y2":{"field":"y2"}}},
   {"data":{"name":"tr"},"transform":[{"filter":"datum.p==='L4'"}],"mark":{"type":"line","color":"#7e0b2c","strokeWidth":2.4,"clip":true},"encoding":{"x":{"field":"x","type":"quantitative","scale":{"domain":[20,80]},"axis":{"orient":"bottom","values":[20,21,22,23,24,25,26,27,28,29,30,31,32,33,34,35,36,37,38,39,40,41,42,43,44,45,46,47,48,49,50,51,52,53,54,55,56,57,58,59,60,61,62,63,64,65,66,67,68,69,70,71,72,73,74,75,76,77,78,79,80],"labels":false,"domain":false,"grid":false,"title":null,"tickColor":"#000","tickWidth":1.5,"tickSize":{"condition":{"test":"datum.value % 5 === 0","value":-9},"value":-5}}},"y":{"field":"y","type":"quantitative","scale":{"domain":[0,100]},"axis":null}}},
   {"data":{"name":"tr"},"transform":[{"filter":"datum.p==='L4'"}],"mark":{"type":"line","strokeOpacity":0},"encoding":{"x":{"field":"x","type":"quantitative","scale":{"domain":[20,80]},"axis":{"orient":"top","values":[20,21,22,23,24,25,26,27,28,29,30,31,32,33,34,35,36,37,38,39,40,41,42,43,44,45,46,47,48,49,50,51,52,53,54,55,56,57,58,59,60,61,62,63,64,65,66,67,68,69,70,71,72,73,74,75,76,77,78,79,80],"labels":false,"domain":false,"grid":false,"title":null,"tickColor":"#000","tickWidth":1.5,"tickSize":{"condition":{"test":"datum.value % 5 === 0","value":-9},"value":-5}}},"y":{"field":"y","type":"quantitative","scale":{"domain":[0,100]},"axis":null}}},
   {"data":{"name":"tx"},"transform":[{"filter":"datum.p==='L4' && datum.k==='lab'"}],"mark":{"type":"text","align":"left","baseline":"alphabetic","font":"Liberation Serif","fontSize":36,"color":"#7a0a2a"},"encoding":{"x":{"field":"x","type":"quantitative","scale":{"domain":[20,80]},"axis":null},"y":{"field":"y","type":"quantitative","scale":{"domain":[0,100]},"axis":null},"text":{"field":"t"}}},
   {"data":{"name":"mk"},"transform":[{"filter":"datum.p==='L4' && datum.k!=='ast'"}],"mark":{"type":"point","filled":true,"color":"#000","opacity":1,"size":90},"encoding":{"x":{"field":"x","type":"quantitative","scale":{"domain":[20,80]},"axis":null},"y":{"field":"y","type":"quantitative","scale":{"domain":[0,100]},"axis":null},"shape":{"field":"k","type":"nominal","scale":{"domain":["sq","tri"],"range":["square","triangle-left"]},"legend":null}}},
   {"data":{"name":"mk"},"transform":[{"filter":"datum.p==='L4' && datum.k==='ast'"}],"mark":{"type":"text","align":"center","baseline":"alphabetic","dy":17,"font":"Liberation Serif","fontSize":38,"fontWeight":"bold","color":"#000"},"encoding":{"x":{"field":"x","type":"quantitative","scale":{"domain":[20,80]},"axis":null},"y":{"field":"y","type":"quantitative","scale":{"domain":[0,100]},"axis":null},"text":{"value":"*"}}}
  ]},
  {"width":782,"height":100,"resolve":{"axis":{"x":"independent"}},"layer":[
   {"data":{"name":"ru"},"transform":[{"filter":"datum.p==='L5'"}],"mark":{"type":"rule","color":"#a6a6a6","strokeDash":[4,3],"strokeWidth":1.5},"encoding":{"x":{"field":"x","type":"quantitative","scale":{"domain":[20,80]},"axis":null},"y":{"field":"y","type":"quantitative","scale":{"domain":[0,100]},"axis":null},"y2":{"field":"y2"}}},
   {"data":{"name":"tr"},"transform":[{"filter":"datum.p==='L5'"}],"mark":{"type":"line","color":"#850a8c","strokeWidth":2.4,"clip":true},"encoding":{"x":{"field":"x","type":"quantitative","scale":{"domain":[20,80]},"axis":{"orient":"bottom","values":[20,21,22,23,24,25,26,27,28,29,30,31,32,33,34,35,36,37,38,39,40,41,42,43,44,45,46,47,48,49,50,51,52,53,54,55,56,57,58,59,60,61,62,63,64,65,66,67,68,69,70,71,72,73,74,75,76,77,78,79,80],"labels":false,"domain":false,"grid":false,"title":null,"tickColor":"#000","tickWidth":1.5,"tickSize":{"condition":{"test":"datum.value % 5 === 0","value":-9},"value":-5}}},"y":{"field":"y","type":"quantitative","scale":{"domain":[0,100]},"axis":null}}},
   {"data":{"name":"tr"},"transform":[{"filter":"datum.p==='L5'"}],"mark":{"type":"line","strokeOpacity":0},"encoding":{"x":{"field":"x","type":"quantitative","scale":{"domain":[20,80]},"axis":{"orient":"top","values":[20,21,22,23,24,25,26,27,28,29,30,31,32,33,34,35,36,37,38,39,40,41,42,43,44,45,46,47,48,49,50,51,52,53,54,55,56,57,58,59,60,61,62,63,64,65,66,67,68,69,70,71,72,73,74,75,76,77,78,79,80],"labels":false,"domain":false,"grid":false,"title":null,"tickColor":"#000","tickWidth":1.5,"tickSize":{"condition":{"test":"datum.value % 5 === 0","value":-9},"value":-5}}},"y":{"field":"y","type":"quantitative","scale":{"domain":[0,100]},"axis":null}}},
   {"data":{"name":"tx"},"transform":[{"filter":"datum.p==='L5' && datum.k==='lab'"}],"mark":{"type":"text","align":"left","baseline":"alphabetic","font":"Liberation Serif","fontSize":36,"color":"#7d1488"},"encoding":{"x":{"field":"x","type":"quantitative","scale":{"domain":[20,80]},"axis":null},"y":{"field":"y","type":"quantitative","scale":{"domain":[0,100]},"axis":null},"text":{"field":"t"}}}
  ]},
  {"width":782,"height":101,"resolve":{"axis":{"x":"independent"}},"layer":[
   {"data":{"name":"ru"},"transform":[{"filter":"datum.p==='L6'"}],"mark":{"type":"rule","color":"#a6a6a6","strokeDash":[4,3],"strokeWidth":1.5},"encoding":{"x":{"field":"x","type":"quantitative","scale":{"domain":[20,80]},"axis":null},"y":{"field":"y","type":"quantitative","scale":{"domain":[0,100]},"axis":null},"y2":{"field":"y2"}}},
   {"data":{"name":"tr"},"transform":[{"filter":"datum.p==='L6'"}],"mark":{"type":"line","color":"#850a8c","strokeWidth":2.4,"clip":true},"encoding":{"x":{"field":"x","type":"quantitative","scale":{"domain":[20,80]},"axis":{"orient":"bottom","values":[20,21,22,23,24,25,26,27,28,29,30,31,32,33,34,35,36,37,38,39,40,41,42,43,44,45,46,47,48,49,50,51,52,53,54,55,56,57,58,59,60,61,62,63,64,65,66,67,68,69,70,71,72,73,74,75,76,77,78,79,80],"labels":true,"labelExpr":"datum.value % 5 === 0 ? datum.label : ''","labelFont":"Liberation Serif","labelFontSize":34,"labelColor":"#000","labelPadding":19,"labelOverlap":false,"labelFlush":false,"labelBound":false,"domain":false,"grid":false,"title":"2θ (°)","titleFont":"Liberation Serif","titleFontSize":46,"titleFontWeight":"normal","titleColor":"#000","titlePadding":-2,"tickColor":"#000","tickWidth":1.5,"tickSize":{"condition":{"test":"datum.value % 5 === 0","value":-9},"value":-5}}},"y":{"field":"y","type":"quantitative","scale":{"domain":[0,100]},"axis":null}}},
   {"data":{"name":"tr"},"transform":[{"filter":"datum.p==='L6'"}],"mark":{"type":"line","strokeOpacity":0},"encoding":{"x":{"field":"x","type":"quantitative","scale":{"domain":[20,80]},"axis":{"orient":"top","values":[20,21,22,23,24,25,26,27,28,29,30,31,32,33,34,35,36,37,38,39,40,41,42,43,44,45,46,47,48,49,50,51,52,53,54,55,56,57,58,59,60,61,62,63,64,65,66,67,68,69,70,71,72,73,74,75,76,77,78,79,80],"labels":false,"domain":false,"grid":false,"title":null,"tickColor":"#000","tickWidth":1.5,"tickSize":{"condition":{"test":"datum.value % 5 === 0","value":-9},"value":-5}}},"y":{"field":"y","type":"quantitative","scale":{"domain":[0,100]},"axis":null}}},
   {"data":{"name":"tx"},"transform":[{"filter":"datum.p==='L6' && datum.k==='lab'"}],"mark":{"type":"text","align":"left","baseline":"alphabetic","font":"Liberation Serif","fontSize":36,"color":"#9412c4"},"encoding":{"x":{"field":"x","type":"quantitative","scale":{"domain":[20,80]},"axis":null},"y":{"field":"y","type":"quantitative","scale":{"domain":[0,100]},"axis":null},"text":{"field":"t"}}}
  ]}
 ]},
{"bounds":"flush","spacing":0,
 "vconcat":[
  {"width":276,"height":101,"resolve":{"axis":{"x":"independent"}},"layer":[
   {"data":{"name":"tr"},"transform":[{"filter":"datum.p==='R1'"}],"mark":{"type":"line","color":"#ff0d0d","strokeWidth":2.4,"clip":true},"encoding":{"x":{"field":"x","type":"quantitative","scale":{"domain":[33,53]},"axis":{"orient":"bottom","values":[33,34,35,36,37,38,39,40,41,42,43,44,45,46,47,48,49,50,51,52,53],"labels":false,"domain":false,"grid":false,"title":null,"tickColor":"#000","tickWidth":1.5,"tickSize":{"condition":{"test":"(datum.value - 33) % 5 === 0","value":-9},"value":-5}}},"y":{"field":"y","type":"quantitative","scale":{"domain":[0,100]},"axis":null}}},
   {"data":{"name":"tr"},"transform":[{"filter":"datum.p==='R1'"}],"mark":{"type":"line","strokeOpacity":0},"encoding":{"x":{"field":"x","type":"quantitative","scale":{"domain":[33,53]},"axis":{"orient":"top","values":[33,34,35,36,37,38,39,40,41,42,43,44,45,46,47,48,49,50,51,52,53],"labels":false,"domain":false,"grid":false,"title":null,"tickColor":"#000","tickWidth":1.5,"tickSize":{"condition":{"test":"(datum.value - 33) % 5 === 0","value":-9},"value":-5}}},"y":{"field":"y","type":"quantitative","scale":{"domain":[0,100]},"axis":null}}},
   {"data":{"name":"tx"},"transform":[{"filter":"datum.p==='R1' && datum.k==='ab'"}],"mark":{"type":"text","align":"center","baseline":"middle","font":"Liberation Serif","fontSize":32,"color":"#111"},"encoding":{"x":{"field":"x","type":"quantitative","scale":{"domain":[33,53]},"axis":null},"y":{"field":"y","type":"quantitative","scale":{"domain":[0,100]},"axis":null},"text":{"field":"t"}}}
  ]},
  {"width":276,"height":100,"resolve":{"axis":{"x":"independent"}},"layer":[
   {"data":{"name":"tr"},"transform":[{"filter":"datum.p==='R2'"}],"mark":{"type":"line","color":"#ff0d0d","strokeWidth":2.4,"clip":true},"encoding":{"x":{"field":"x","type":"quantitative","scale":{"domain":[33,53]},"axis":{"orient":"bottom","values":[33,34,35,36,37,38,39,40,41,42,43,44,45,46,47,48,49,50,51,52,53],"labels":false,"domain":false,"grid":false,"title":null,"tickColor":"#000","tickWidth":1.5,"tickSize":{"condition":{"test":"(datum.value - 33) % 5 === 0","value":-9},"value":-5}}},"y":{"field":"y","type":"quantitative","scale":{"domain":[0,100]},"axis":null}}},
   {"data":{"name":"tr"},"transform":[{"filter":"datum.p==='R2'"}],"mark":{"type":"line","strokeOpacity":0},"encoding":{"x":{"field":"x","type":"quantitative","scale":{"domain":[33,53]},"axis":{"orient":"top","values":[33,34,35,36,37,38,39,40,41,42,43,44,45,46,47,48,49,50,51,52,53],"labels":false,"domain":false,"grid":false,"title":null,"tickColor":"#000","tickWidth":1.5,"tickSize":{"condition":{"test":"(datum.value - 33) % 5 === 0","value":-9},"value":-5}}},"y":{"field":"y","type":"quantitative","scale":{"domain":[0,100]},"axis":null}}},
   {"data":{"name":"mk"},"transform":[{"filter":"datum.p==='R2' && datum.k!=='ast'"}],"mark":{"type":"point","filled":true,"color":"#000","opacity":1,"size":90},"encoding":{"x":{"field":"x","type":"quantitative","scale":{"domain":[33,53]},"axis":null},"y":{"field":"y","type":"quantitative","scale":{"domain":[0,100]},"axis":null},"shape":{"field":"k","type":"nominal","scale":{"domain":["sq","tri"],"range":["square","triangle-left"]},"legend":null}}}
  ]},
  {"width":276,"height":101,"resolve":{"axis":{"x":"independent"}},"layer":[
   {"data":{"name":"tr"},"transform":[{"filter":"datum.p==='R3'"}],"mark":{"type":"line","color":"#7e0b2c","strokeWidth":2.4,"clip":true},"encoding":{"x":{"field":"x","type":"quantitative","scale":{"domain":[33,53]},"axis":{"orient":"bottom","values":[33,34,35,36,37,38,39,40,41,42,43,44,45,46,47,48,49,50,51,52,53],"labels":false,"domain":false,"grid":false,"title":null,"tickColor":"#000","tickWidth":1.5,"tickSize":{"condition":{"test":"(datum.value - 33) % 5 === 0","value":-9},"value":-5}}},"y":{"field":"y","type":"quantitative","scale":{"domain":[0,100]},"axis":null}}},
   {"data":{"name":"tr"},"transform":[{"filter":"datum.p==='R3'"}],"mark":{"type":"line","strokeOpacity":0},"encoding":{"x":{"field":"x","type":"quantitative","scale":{"domain":[33,53]},"axis":{"orient":"top","values":[33,34,35,36,37,38,39,40,41,42,43,44,45,46,47,48,49,50,51,52,53],"labels":false,"domain":false,"grid":false,"title":null,"tickColor":"#000","tickWidth":1.5,"tickSize":{"condition":{"test":"(datum.value - 33) % 5 === 0","value":-9},"value":-5}}},"y":{"field":"y","type":"quantitative","scale":{"domain":[0,100]},"axis":null}}},
   {"data":{"name":"mk"},"transform":[{"filter":"datum.p==='R3' && datum.k!=='ast'"}],"mark":{"type":"point","filled":true,"color":"#000","opacity":1,"size":90},"encoding":{"x":{"field":"x","type":"quantitative","scale":{"domain":[33,53]},"axis":null},"y":{"field":"y","type":"quantitative","scale":{"domain":[0,100]},"axis":null},"shape":{"field":"k","type":"nominal","scale":{"domain":["sq","tri"],"range":["square","triangle-left"]},"legend":null}}}
  ]},
  {"width":276,"height":101,"resolve":{"axis":{"x":"independent"}},"layer":[
   {"data":{"name":"tr"},"transform":[{"filter":"datum.p==='R4'"}],"mark":{"type":"line","color":"#7e0b2c","strokeWidth":2.4,"clip":true},"encoding":{"x":{"field":"x","type":"quantitative","scale":{"domain":[33,53]},"axis":{"orient":"bottom","values":[33,34,35,36,37,38,39,40,41,42,43,44,45,46,47,48,49,50,51,52,53],"labels":false,"domain":false,"grid":false,"title":null,"tickColor":"#000","tickWidth":1.5,"tickSize":{"condition":{"test":"(datum.value - 33) % 5 === 0","value":-9},"value":-5}}},"y":{"field":"y","type":"quantitative","scale":{"domain":[0,100]},"axis":null}}},
   {"data":{"name":"tr"},"transform":[{"filter":"datum.p==='R4'"}],"mark":{"type":"line","strokeOpacity":0},"encoding":{"x":{"field":"x","type":"quantitative","scale":{"domain":[33,53]},"axis":{"orient":"top","values":[33,34,35,36,37,38,39,40,41,42,43,44,45,46,47,48,49,50,51,52,53],"labels":false,"domain":false,"grid":false,"title":null,"tickColor":"#000","tickWidth":1.5,"tickSize":{"condition":{"test":"(datum.value - 33) % 5 === 0","value":-9},"value":-5}}},"y":{"field":"y","type":"quantitative","scale":{"domain":[0,100]},"axis":null}}},
   {"data":{"name":"mk"},"transform":[{"filter":"datum.p==='R4' && datum.k!=='ast'"}],"mark":{"type":"point","filled":true,"color":"#000","opacity":1,"size":90},"encoding":{"x":{"field":"x","type":"quantitative","scale":{"domain":[33,53]},"axis":null},"y":{"field":"y","type":"quantitative","scale":{"domain":[0,100]},"axis":null},"shape":{"field":"k","type":"nominal","scale":{"domain":["sq","tri"],"range":["square","triangle-left"]},"legend":null}}},
   {"data":{"name":"mk"},"transform":[{"filter":"datum.p==='R4' && datum.k==='ast'"}],"mark":{"type":"text","align":"center","baseline":"alphabetic","dy":17,"font":"Liberation Serif","fontSize":38,"fontWeight":"bold","color":"#000"},"encoding":{"x":{"field":"x","type":"quantitative","scale":{"domain":[33,53]},"axis":null},"y":{"field":"y","type":"quantitative","scale":{"domain":[0,100]},"axis":null},"text":{"value":"*"}}}
  ]},
  {"width":276,"height":100,"resolve":{"axis":{"x":"independent"}},"layer":[
   {"data":{"name":"tr"},"transform":[{"filter":"datum.p==='R5'"}],"mark":{"type":"line","color":"#850a8c","strokeWidth":2.4,"clip":true},"encoding":{"x":{"field":"x","type":"quantitative","scale":{"domain":[33,53]},"axis":{"orient":"bottom","values":[33,34,35,36,37,38,39,40,41,42,43,44,45,46,47,48,49,50,51,52,53],"labels":false,"domain":false,"grid":false,"title":null,"tickColor":"#000","tickWidth":1.5,"tickSize":{"condition":{"test":"(datum.value - 33) % 5 === 0","value":-9},"value":-5}}},"y":{"field":"y","type":"quantitative","scale":{"domain":[0,100]},"axis":null}}},
   {"data":{"name":"tr"},"transform":[{"filter":"datum.p==='R5'"}],"mark":{"type":"line","strokeOpacity":0},"encoding":{"x":{"field":"x","type":"quantitative","scale":{"domain":[33,53]},"axis":{"orient":"top","values":[33,34,35,36,37,38,39,40,41,42,43,44,45,46,47,48,49,50,51,52,53],"labels":false,"domain":false,"grid":false,"title":null,"tickColor":"#000","tickWidth":1.5,"tickSize":{"condition":{"test":"(datum.value - 33) % 5 === 0","value":-9},"value":-5}}},"y":{"field":"y","type":"quantitative","scale":{"domain":[0,100]},"axis":null}}},
   {"data":{"name":"mk"},"transform":[{"filter":"datum.p==='R5' && datum.k!=='ast'"}],"mark":{"type":"point","filled":true,"color":"#000","opacity":1,"size":90},"encoding":{"x":{"field":"x","type":"quantitative","scale":{"domain":[33,53]},"axis":null},"y":{"field":"y","type":"quantitative","scale":{"domain":[0,100]},"axis":null},"shape":{"field":"k","type":"nominal","scale":{"domain":["sq","tri"],"range":["square","triangle-left"]},"legend":null}}}
  ]},
  {"width":276,"height":101,"resolve":{"axis":{"x":"independent"}},"layer":[
   {"data":{"name":"tr"},"transform":[{"filter":"datum.p==='R6'"}],"mark":{"type":"line","color":"#850a8c","strokeWidth":2.4,"clip":true},"encoding":{"x":{"field":"x","type":"quantitative","scale":{"domain":[33,53]},"axis":{"orient":"bottom","values":[33,34,35,36,37,38,39,40,41,42,43,44,45,46,47,48,49,50,51,52,53],"labels":true,"labelExpr":"(datum.value - 33) % 5 === 0 ? datum.label : ''","labelFont":"Liberation Serif","labelFontSize":34,"labelColor":"#000","labelPadding":19,"labelOverlap":false,"labelFlush":false,"labelBound":false,"domain":false,"grid":false,"title":"2θ (°)","titleFont":"Liberation Serif","titleFontSize":46,"titleFontWeight":"normal","titleColor":"#000","titlePadding":-2,"tickColor":"#000","tickWidth":1.5,"tickSize":{"condition":{"test":"(datum.value - 33) % 5 === 0","value":-9},"value":-5}}},"y":{"field":"y","type":"quantitative","scale":{"domain":[0,100]},"axis":null}}},
   {"data":{"name":"tr"},"transform":[{"filter":"datum.p==='R6'"}],"mark":{"type":"line","strokeOpacity":0},"encoding":{"x":{"field":"x","type":"quantitative","scale":{"domain":[33,53]},"axis":{"orient":"top","values":[33,34,35,36,37,38,39,40,41,42,43,44,45,46,47,48,49,50,51,52,53],"labels":false,"domain":false,"grid":false,"title":null,"tickColor":"#000","tickWidth":1.5,"tickSize":{"condition":{"test":"(datum.value - 33) % 5 === 0","value":-9},"value":-5}}},"y":{"field":"y","type":"quantitative","scale":{"domain":[0,100]},"axis":null}}},
   {"data":{"name":"mk"},"transform":[{"filter":"datum.p==='R6' && datum.k==='ast'"}],"mark":{"type":"text","align":"center","baseline":"alphabetic","dy":17,"font":"Liberation Serif","fontSize":38,"fontWeight":"bold","color":"#000"},"encoding":{"x":{"field":"x","type":"quantitative","scale":{"domain":[33,53]},"axis":null},"y":{"field":"y","type":"quantitative","scale":{"domain":[0,100]},"axis":null},"text":{"value":"*"}}}
  ]}
 ]}
]
}
